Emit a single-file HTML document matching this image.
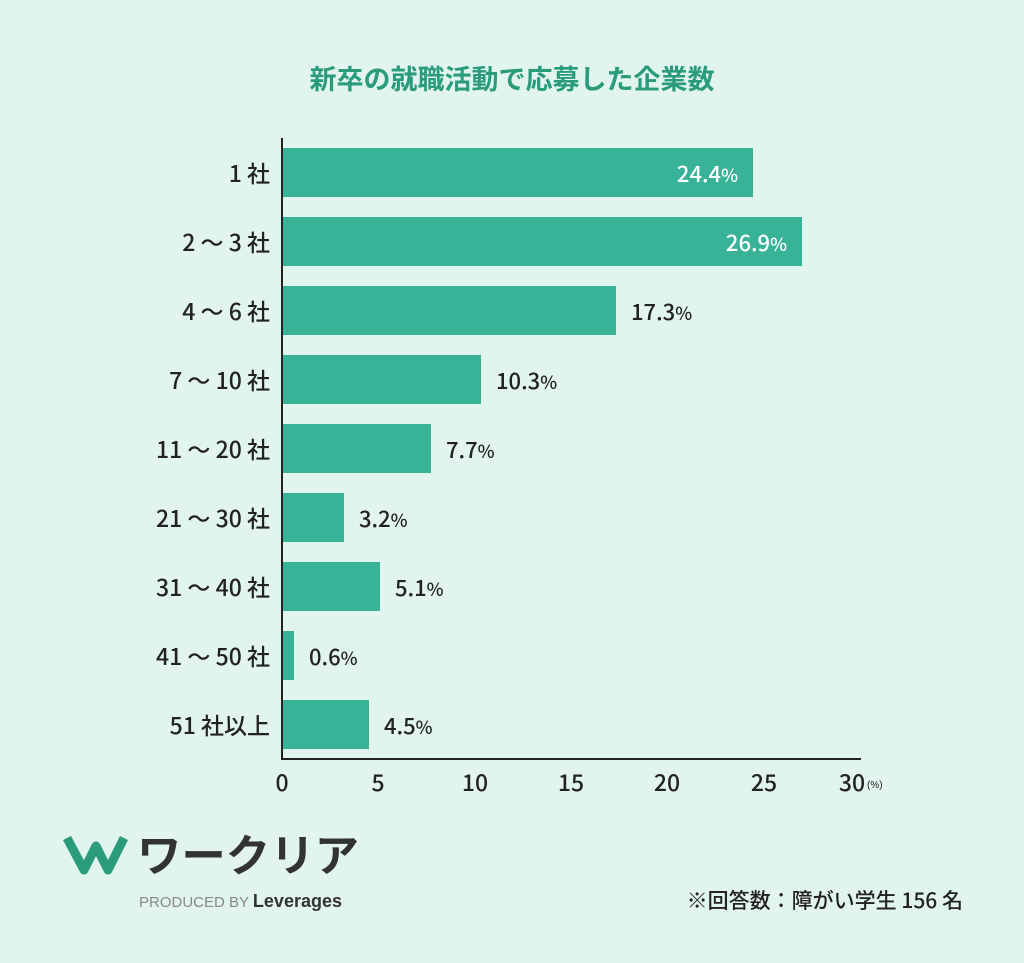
<!DOCTYPE html>
<html><head><meta charset="utf-8"><style>
body{margin:0;width:1024px;height:963px;background:#e1f4ee;font-family:"Liberation Sans","Noto Sans CJK JP",sans-serif;position:relative;overflow:hidden}
</style></head><body>
<svg width="1024" height="963" style="position:absolute;left:0;top:0" font-family="Liberation Sans, Noto Sans CJK JP, sans-serif">
<text x="512" y="89" text-anchor="middle" font-size="27" font-weight="bold" fill="#2a9c7c" font-family="Noto Sans CJK JP, sans-serif">新卒の就職活動で応募した企業数</text>
<g fill="#38b398">
<rect x="282" y="148" width="471" height="49"/>
<rect x="282" y="217" width="520" height="49"/>
<rect x="282" y="286" width="334" height="49"/>
<rect x="282" y="355" width="199" height="49"/>
<rect x="282" y="424" width="149" height="49"/>
<rect x="282" y="493" width="62" height="49"/>
<rect x="282" y="562" width="98" height="49"/>
<rect x="282" y="631" width="12" height="49"/>
<rect x="282" y="700" width="87" height="49"/>
</g>
<line x1="282" y1="138" x2="282" y2="760" stroke="#222" stroke-width="2"/>
<line x1="281" y1="759" x2="861" y2="759" stroke="#222" stroke-width="2"/>
<g font-size="23" font-weight="500" fill="#222" text-anchor="end" font-family="Noto Sans CJK JP, sans-serif">
<text x="270" y="182">1 社</text>
<text x="270" y="251">2 ～ 3 社</text>
<text x="270" y="320">4 ～ 6 社</text>
<text x="270" y="389">7 ～ 10 社</text>
<text x="270" y="458">11 ～ 20 社</text>
<text x="270" y="527">21 ～ 30 社</text>
<text x="270" y="596">31 ～ 40 社</text>
<text x="270" y="665">41 ～ 50 社</text>
<text x="270" y="734">51 社以上</text>
</g>
<g font-size="22" font-weight="500" font-family="Noto Sans CJK JP, sans-serif">
<text x="738" y="182" text-anchor="end" fill="#fff">24.4<tspan font-size="18">%</tspan></text>
<text x="787" y="251" text-anchor="end" fill="#fff">26.9<tspan font-size="18">%</tspan></text>
<g fill="#222">
<text x="631" y="320">17.3<tspan font-size="18">%</tspan></text>
<text x="496" y="389">10.3<tspan font-size="18">%</tspan></text>
<text x="446" y="458">7.7<tspan font-size="18">%</tspan></text>
<text x="359" y="527">3.2<tspan font-size="18">%</tspan></text>
<text x="395" y="596">5.1<tspan font-size="18">%</tspan></text>
<text x="309" y="665">0.6<tspan font-size="18">%</tspan></text>
<text x="384" y="734">4.5<tspan font-size="18">%</tspan></text>
</g></g>
<g font-size="23" font-weight="500" fill="#222" text-anchor="middle" font-family="Noto Sans CJK JP, sans-serif">
<text x="282" y="791">0</text><text x="378" y="791">5</text><text x="475" y="791">10</text>
<text x="571" y="791">15</text><text x="667" y="791">20</text><text x="764" y="791">25</text><text x="852" y="791">30</text>
</g>
<text x="867" y="788" font-size="10" fill="#222">(%)</text>
<g fill="none" stroke="#2a9c7c" stroke-width="9" stroke-linejoin="round">
<path d="M67 838 L84 870 L96 846 L108 870 L124 838"/>
</g>
<text x="137" y="871" font-size="44" font-weight="bold" fill="#333" font-family="Noto Sans CJK JP, sans-serif" textLength="222" lengthAdjust="spacingAndGlyphs">ワークリア</text>
<text x="139" y="907" font-size="15" fill="#888">PRODUCED BY <tspan fill="#333" font-weight="bold" font-size="18">Leverages</tspan></text>
<text x="963" y="908" text-anchor="end" font-size="21" font-weight="500" fill="#222" font-family="Noto Sans CJK JP, sans-serif">※回答数：障がい学生 156 名</text>
</svg>
</body></html>
